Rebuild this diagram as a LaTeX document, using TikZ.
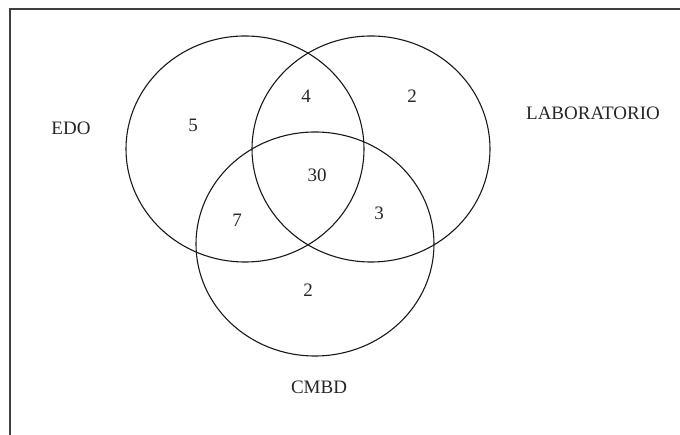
\documentclass[tikz,border=0pt]{standalone}
\usepackage{fontspec}
\setmainfont{Liberation Serif}
\usetikzlibrary{shapes.geometric}
\begin{document}
\begin{tikzpicture}[x=1pt,y=-1pt,
  setcircle/.style={ellipse, draw=black!90, line width=1.1pt, inner sep=0pt,
    minimum width=238pt, minimum height=226pt},
  lbl/.style={inner sep=0pt, text=black!85, font=\fontsize{19}{22}\selectfont},
  frameline/.style={draw=black!75, line width=1.1pt}]
\useasboundingbox (0,0) rectangle (680,435);
\coordinate (fbl) at (10,435);
\coordinate (ftl) at (10,9);
\coordinate (ftr) at (680,9);
\draw[frameline] (fbl) -- (ftl) -- (ftr);
\node[setcircle] (edo) at (245,149) {};
\node[setcircle] (lab) at (371,149) {};
\node[setcircle, minimum height=224pt] (cmbd) at (315,244) {};
\node[lbl] (tedo) at (71,128) {EDO};
\node[lbl] (tlab) at (593,113) {LABORATORIO};
\node[lbl] (tcmbd) at (319,387) {CMBD};
\node[lbl] (n5) at (193,125) {5};
\node[lbl] (n4) at (306,96) {4};
\node[lbl] (n2a) at (412,96) {2};
\node[lbl] (n30) at (317,175) {30};
\node[lbl] (n7) at (237,220) {7};
\node[lbl] (n3) at (379,213) {3};
\node[lbl] (n2b) at (308,290) {2};
\end{tikzpicture}
\end{document}
